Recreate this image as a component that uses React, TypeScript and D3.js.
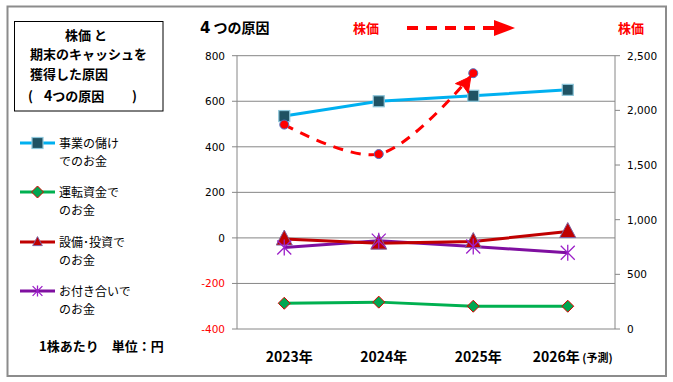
import React from "react";
import * as d3 from "d3";

const categories = ["2023年", "2024年", "2025年", "2026年"];
const categorySuffix = ["", "", "", " (予測)"];
const profit = [535, 600, 624, 650];
const workingCapital = [-287, -282, -300, -300];
const investment = [-5, -23, -16, 28];
const relations = [-42, -12, -38, -65];
const stockPrice = [1870, 1600, 2340];
const leftTicks = [-400, -200, 0, 200, 400, 600, 800];
const rightTicks = [0, 500, 1000, 1500, 2000, 2500];

const W = 673, H = 382;
const PL = 237, PR = 615, PT = 55.7, PB = 329;
const JP = "'Noto Sans CJK JP', sans-serif";
const NUM = "'DejaVu Sans', sans-serif";

export default function App() {
  const x = d3.scaleBand<string>().domain(categories).range([PL, PR]);
  const cx = (i: number) => (x(categories[i]) as number) + x.bandwidth() / 2;
  const yL = d3.scaleLinear().domain([-400, 800]).range([PB, PT]);
  const yR = d3.scaleLinear().domain([0, 2500]).range([PB, PT]);
  const line = d3.line<number>().x((_, i) => cx(i)).y((d) => yL(d));
  const stockLine = d3
    .line<number>()
    .x((_, i) => cx(i))
    .y((d) => yR(d))
    .curve(d3.curveCatmullRom.alpha(0.5));
  const fmt = d3.format(",");

  // arrowhead at the end of the stock-price curve
  const n = stockPrice.length;
  const ex = cx(n - 1), ey = yR(stockPrice[n - 1]);
  const px0 = cx(n - 2), py0 = yR(stockPrice[n - 2]);
  const ang = Math.atan2(ey - py0, ex - px0) - 0.22;
  const dx = Math.cos(ang), dy = Math.sin(ang);
  const nx = -dy, ny = dx;
  const tipX = ex - dx * 4, tipY = ey - dy * 4;
  const len = 15, hw = 8, notch = 12.5;
  const bx = tipX - dx * len, by = tipY - dy * len;
  const mx = tipX - dx * notch, my = tipY - dy * notch;
  const arrow = `M${tipX.toFixed(2)},${tipY.toFixed(2)}L${(bx + nx * hw).toFixed(2)},${(by + ny * hw).toFixed(2)}L${mx.toFixed(2)},${my.toFixed(2)}L${(bx - nx * hw).toFixed(2)},${(by - ny * hw).toFixed(2)}Z`;

  const square = (px: number, py: number, k: string | number) => (
    <rect key={k} x={px - 5.5} y={py - 5.5} width={11} height={11} fill="#1F5263" stroke="#8DC6DA" strokeWidth={1.2} />
  );
  const diamond = (px: number, py: number, k: string | number) => (
    <path key={k} d={`M${px},${py - 6}L${px + 6},${py}L${px},${py + 6}L${px - 6},${py}Z`} fill="#00A650" stroke="#E00000" strokeWidth={1} />
  );
  const tri = (px: number, py: number, k: string | number, s = 1) => (
    <path key={k} d={`M${px},${py - 9 * s}L${px + 8 * s},${py + 6 * s}L${px - 8 * s},${py + 6 * s}Z`} fill="#C00000" stroke="#8064A2" strokeWidth={1} />
  );
  const star = (px: number, py: number, k: string | number, s = 1) => (
    <path key={k} d={`M${px - 7 * s},${py - 7 * s}L${px + 7 * s},${py + 7 * s}M${px + 7 * s},${py - 7 * s}L${px - 7 * s},${py + 7 * s}M${px},${py - 8 * s}L${px},${py + 8 * s}`} stroke="#9B1FC8" strokeWidth={1.3} fill="none" />
  );

  const legendItems = [
    { color: "#00B0F0", l1: "事業の儲け", l2: "でのお金", y: 143, m: (px: number, py: number) => square(px, py, "lm1") },
    { color: "#00B050", l1: "運転資金で", l2: "のお金", y: 192, m: (px: number, py: number) => diamond(px, py, "lm2") },
    { color: "#C00000", l1: "設備･投資で", l2: "のお金", y: 242, m: (px: number, py: number) => tri(px, py, "lm3", 0.6) },
    { color: "#7F0FA0", l1: "お付き合いで", l2: "のお金", y: 291, m: (px: number, py: number) => star(px, py, "lm4", 0.7) },
  ];

  return (
    <svg width={W} height={H} style={{ position: "absolute", left: 0, top: 0, background: "#fff" }}>
      <rect x={7.5} y={6.5} width={658.5} height={369.5} fill="#fff" stroke="#8C8C8C" strokeWidth={2} />

      {/* title box */}
      <rect x={14.5} y={21.5} width={148.5} height={89.5} fill="#fff" stroke="#000" strokeWidth={1} />
      <g fontFamily={JP} fontWeight="bold" fontSize={13} fill="#000">
        <text x={86} y={40} textAnchor="middle">株価 と</text>
        <text x={30} y={59}>期末のキャッシュを</text>
        <text x={30} y={79}>獲得した原因</text>
        <text x={28} y={101}>(</text>
        <text x={44} y={101}><tspan fontSize={14}>4</tspan>つの原因</text>
        <text x={132} y={101}>)</text>
      </g>

      {/* legend */}
      {legendItems.map((it, i) => (
        <g key={i}>
          <line x1={20} x2={55} y1={it.y} y2={it.y} stroke={it.color} strokeWidth={3} />
          {it.m(37.5, it.y)}
          <text x={59} y={it.y + 4.5} fontFamily={JP} fontSize={12}>{it.l1}</text>
          <text x={59} y={it.y + 23} fontFamily={JP} fontSize={12}>{it.l2}</text>
        </g>
      ))}
      <text x={39} y={351} fontFamily={JP} fontWeight="bold" fontSize={13}>1株あたり　単位：円</text>

      {/* top labels */}
      <text x={200} y={33} fontFamily={JP} fontWeight="bold" fontSize={14}><tspan fontFamily={NUM} fontSize={15}>4</tspan> つの原因</text>
      <text x={353} y={33} fontFamily={JP} fontWeight="bold" fontSize={13} fill="#FF0000">株価</text>
      <line x1={407} x2={496} y1={28} y2={28} stroke="#FF0000" strokeWidth={4} strokeDasharray="11,8" />
      <path d="M494,20L515,28L494,36Z" fill="#FF0000" />
      <text x={618} y={33} fontFamily={JP} fontWeight="bold" fontSize={13} fill="#FF0000">株価</text>

      {/* grid */}
      {leftTicks.map((t) => (
        <g key={t}>
          <line x1={PL} x2={PR} y1={yL(t)} y2={yL(t)} stroke="#868686" strokeWidth={1} />
          <line x1={PL - 5} x2={PL} y1={yL(t)} y2={yL(t)} stroke="#868686" />
          <text x={225} y={yL(t) + 4} textAnchor="end" fontFamily={NUM} fontSize={10.5} fill={t < 0 ? "#FF0000" : "#000"}>{t}</text>
        </g>
      ))}
      <line x1={PL} x2={PL} y1={PT} y2={PB} stroke="#868686" />
      <line x1={PR} x2={PR} y1={PT} y2={PB} stroke="#868686" />
      {rightTicks.map((t) => (
        <g key={t}>
          <line x1={PR} x2={PR + 5} y1={yR(t)} y2={yR(t)} stroke="#868686" />
          <text x={627} y={yR(t) + 4} fontFamily={NUM} fontSize={10.5} fill="#000">{fmt(t)}</text>
        </g>
      ))}

      {/* x labels */}
      {categories.map((c, i) => (
        <text key={c} x={cx(i) + 5} y={362} textAnchor="middle" fontFamily={JP} fontWeight="bold" fontSize={14}>
          {c}
          {categorySuffix[i] && <tspan fontSize={11}>{categorySuffix[i]}</tspan>}
        </text>
      ))}

      {/* series lines */}
      <path d={line(workingCapital) || ""} fill="none" stroke="#00B050" strokeWidth={3} />
      <path d={line(relations) || ""} fill="none" stroke="#7F0FA0" strokeWidth={3} />
      <path d={line(investment) || ""} fill="none" stroke="#C00000" strokeWidth={3} />
      <path d={line(profit) || ""} fill="none" stroke="#00B0F0" strokeWidth={3} />

      {workingCapital.map((v, i) => diamond(cx(i), yL(v), "wc" + i))}
      {investment.map((v, i) => tri(cx(i), yL(v), "iv" + i))}
      {relations.map((v, i) => star(cx(i), yL(v), "rl" + i))}
      {profit.map((v, i) => square(cx(i), yL(v), "pf" + i))}

      {/* stock price */}
      <path d={stockLine(stockPrice) || ""} fill="none" stroke="#FF0000" strokeWidth={3} strokeDasharray="10,8" />
      {stockPrice.map((v, i) => (
        <circle key={"sp" + i} cx={cx(i)} cy={yR(v)} r={4.5} fill="#FF0000" stroke="#4F6FC0" strokeWidth={1} />
      ))}
      <path d={arrow} fill="#FF0000" stroke="#FF0000" strokeWidth={1} strokeLinejoin="round" />
    </svg>
  );
}
